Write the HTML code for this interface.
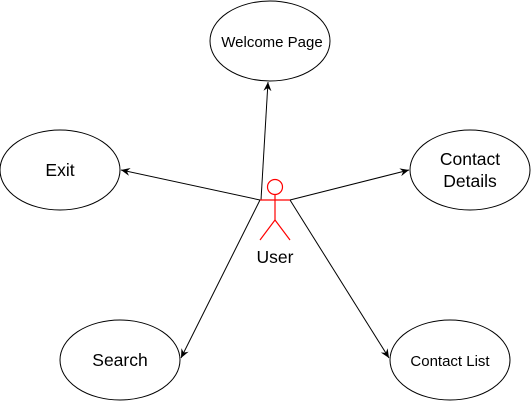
<!DOCTYPE html>
<html><head><style>body{margin:0;background:#fff}</style></head><body>
<svg width="531" height="401" xmlns="http://www.w3.org/2000/svg" font-family="Liberation Sans, sans-serif">
<defs><marker id="a" markerWidth="10" markerHeight="10" refX="9" refY="5" orient="auto" markerUnits="userSpaceOnUse"><path d="M0,1 L9,5 L0,9 L3,5 Z" fill="#000"/></marker></defs>
<g fill="#fff" stroke="#000" stroke-width="1">
<ellipse cx="270" cy="41" rx="60" ry="40"/>
<ellipse cx="60" cy="170" rx="60" ry="40"/>
<ellipse cx="470" cy="170" rx="60" ry="40"/>
<ellipse cx="120" cy="360" rx="60" ry="40"/>
<ellipse cx="450" cy="360" rx="60" ry="40"/>
</g>
<g stroke="#000" stroke-width="1" marker-end="url(#a)">
<line x1="261" y1="200" x2="268" y2="82"/>
<line x1="260" y1="200" x2="121" y2="170"/>
<line x1="260" y1="200" x2="181" y2="358"/>
<line x1="290" y1="200" x2="409" y2="170"/>
<line x1="290" y1="200" x2="389" y2="358"/>
</g>
<g stroke="#f00" stroke-width="1.2" fill="none">
<circle cx="275" cy="187" r="7.5"/>
<line x1="275" y1="195" x2="275" y2="220"/>
<line x1="260" y1="200" x2="290" y2="200"/>
<line x1="275" y1="220" x2="260" y2="240"/>
<line x1="275" y1="220" x2="290" y2="240"/>
</g>
<g font-size="17.5" text-anchor="middle" fill="#000">
<text x="275" y="263">User</text>
<text x="272" y="47" font-size="15">Welcome Page</text>
<text x="60" y="176">Exit</text>
<text x="470" y="165">Contact</text>
<text x="470" y="187">Details</text>
<text x="120" y="366">Search</text>
<text x="450" y="366" font-size="15">Contact List</text>
</g>
</svg>
</body></html>
